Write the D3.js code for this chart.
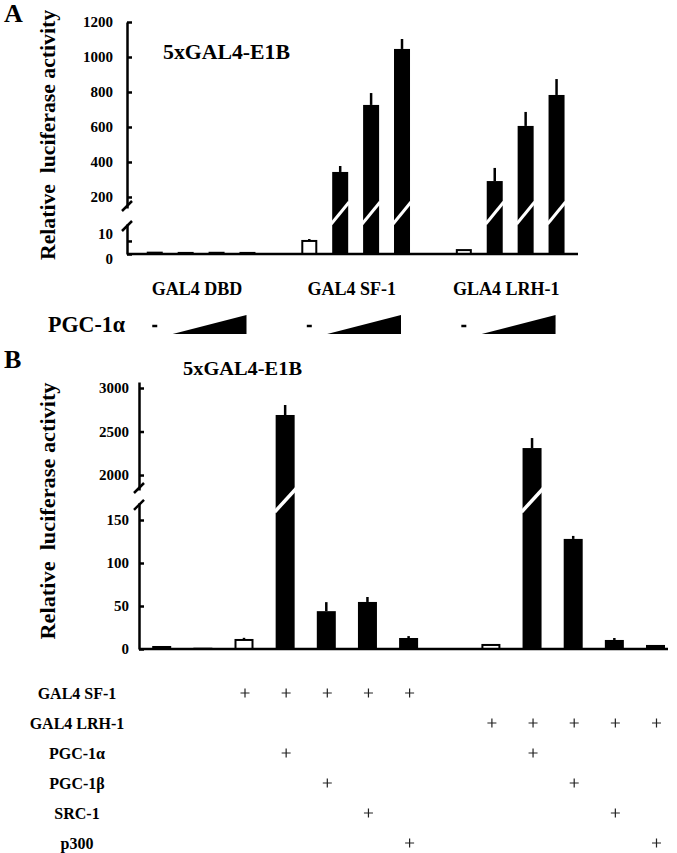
<!DOCTYPE html>
<html>
<head>
<meta charset="utf-8">
<script src="https://cdn.jsdelivr.net/npm/d3@7"></script>
<style>
body { margin: 0; background: #fff; }
svg { display: block; font-family: 'Liberation Serif', 'Times New Roman', serif; font-weight: bold; }
</style>
</head>
<body>
<svg width="677" height="853"></svg>
<script>
'use strict'

// Panel A: GAL4 fusions with increasing PGC-1a
const groupsA = ['GAL4 DBD', 'GAL4 SF-1', 'GLA4 LRH-1']
const dosesA = ['-', 'low', 'mid', 'high']
const valuesA = [
	[1.8, 1.6, 1.7, 1.6],
	[10, 343, 726, 1046],
	[3, 291, 606, 783],
]
const errorsA = [
	[0, 0, 0, 0],
	[1.5, 34, 68, 57],
	[0, 75, 80, 91],
]
const ticksLowA = [0, 10]
const ticksHighA = [200, 400, 600, 800, 1000, 1200]

// Panel B: coactivator panel
const columnsB = ['DBD', 'DBD2', 'SF1', 'SF1+a', 'SF1+b', 'SF1+src', 'SF1+p300', 'gap', 'LRH', 'LRH+a', 'LRH+b', 'LRH+src', 'LRH+p300']
const valuesB = [3.5, 1.5, 10.5, 2690, 44, 54.7, 12.8, null, 4.7, 2310, 128, 10.5, 4.7]
const errorsB = [0, 0, 2.5, 115, 10.5, 5.8, 2.2, null, 0, 115, 3.5, 2.3, 0]
const controlsB = ['SF1', 'LRH']
const rowsB = ['GAL4 SF-1', 'GAL4 LRH-1', 'PGC-1\u03b1', 'PGC-1\u03b2', 'SRC-1', 'p300']
const plusB = [
	[0, 0, 1, 1, 1, 1, 1, 0, 0, 0, 0, 0, 0],
	[0, 0, 0, 0, 0, 0, 0, 0, 1, 1, 1, 1, 1],
	[0, 0, 0, 1, 0, 0, 0, 0, 0, 1, 0, 0, 0],
	[0, 0, 0, 0, 1, 0, 0, 0, 0, 0, 1, 0, 0],
	[0, 0, 0, 0, 0, 1, 0, 0, 0, 0, 0, 1, 0],
	[0, 0, 0, 0, 0, 0, 1, 0, 0, 0, 0, 0, 1],
]
const ticksLowB = [0, 50, 100, 150]
const ticksHighB = [2000, 2500, 3000]

const svg = d3.select('svg')

// Draws one broken y axis (two segments with slanted marks)
function brokenAxis(g, low, high, lowTicks, highTicks, pad, nudge) {
	[[low, lowTicks], [high, highTicks]].forEach(([s, t]) => {
		g.append('g')
			.call(d3.axisLeft(s).tickValues(t).tickFormat(d3.format('d'))
				.tickSizeInner(-5).tickSizeOuter(0).tickPadding(pad))
			.call(a => a.attr('font-family', null).attr('font-size', 15))
			.call(a => a.selectAll('path, line').attr('stroke', '#000').attr('stroke-width', 2.5))
			.call(a => a.selectAll('text').attr('fill', '#000'))
	})
	// pull the two crowded low labels apart a little
	if (nudge) {
		g.selectAll('.tick text').filter(d => d === 0).attr('dy', '0.6em')
		g.selectAll('.tick text').filter(d => d === lowTicks[1]).attr('dy', '-0.15em')
	}
	const ends = [low.range()[1], high.range()[0]]
	ends.forEach((y, i) => {
		const yy = i === 0 ? y + 2 : y - 2
		g.append('line')
			.attr('x1', -5).attr('y1', yy + 5)
			.attr('x2', 5).attr('y2', yy - 5)
			.attr('stroke', '#000').attr('stroke-width', 2.5)
	})
}

// ---------- Panel A ----------
const axA = 127
const x0A = d3.scaleBand().domain(groupsA).range([139.3, 572]).paddingInner(0.2)
const x1A = d3.scaleBand().domain(dosesA).range([0, x0A.bandwidth()])
const lowA = d3.scaleLinear().domain([0, 23]).range([254, 224])
const highA = d3.scaleLinear().domain([137, 1200]).range([208, 22])
const breakA = 15
const yA = v => v < breakA ? lowA(v) : highA(v)
const bwA = 16

svg.append('text').attr('x', 4).attr('y', 22).attr('font-size', 26).text('A')
svg.append('text').attr('x', 163).attr('y', 59).attr('font-size', 20)
	.attr('textLength', 127).attr('lengthAdjust', 'spacingAndGlyphs').text('5xGAL4-E1B')
svg.append('text').attr('transform', 'translate(55,135) rotate(-90)')
	.attr('text-anchor', 'middle').attr('font-size', 20)
	.attr('textLength', 250).attr('lengthAdjust', 'spacingAndGlyphs')
	.text('Relative\u00a0 luciferase activity')

const gA = svg.append('g')
valuesA.forEach((vals, gi) => {
	const grp = groupsA[gi]
	vals.forEach((v, di) => {
		const x = x0A(grp) + x1A(dosesA[di]) + (x1A.bandwidth() - bwA) / 2
		const open = di === 0 && gi > 0
		const e = errorsA[gi][di]
		if (e > 0) {
			gA.append('line').attr('x1', x + bwA / 2).attr('x2', x + bwA / 2)
				.attr('y1', yA(v)).attr('y2', yA(v + e))
				.attr('stroke', '#000').attr('stroke-width', 2.5)
		}
		gA.append('rect')
			.attr('x', open ? x + 1 : x).attr('width', open ? bwA - 2 : bwA)
			.attr('y', yA(v)).attr('height', yA(0) - yA(v))
			.attr('fill', open ? '#fff' : '#000')
			.attr('stroke', '#000').attr('stroke-width', open ? 2 : 0)
		if (v > breakA) {
			gA.append('line').attr('x1', x - 1).attr('y1', 224).attr('x2', x + bwA + 1).attr('y2', 202)
				.attr('stroke', '#fff').attr('stroke-width', 3)
		}
	})
})
gA.append('line').attr('x1', axA).attr('x2', 578).attr('y1', yA(0)).attr('y2', yA(0))
	.attr('stroke', '#000').attr('stroke-width', 2.5)
brokenAxis(svg.append('g').attr('transform', `translate(${axA},0)`), lowA, highA, ticksLowA, ticksHighA, 14, true)

// Group labels and PGC-1a dose wedges
groupsA.forEach(grp => {
	svg.append('text').attr('x', x0A(grp) + x0A.bandwidth() / 2 - 4).attr('y', 295)
		.attr('text-anchor', 'middle').attr('font-size', 18).text(grp)
	const xd = x0A(grp) + x1A('-') + x1A.bandwidth() / 2
	svg.append('line').attr('x1', xd - 2.5).attr('x2', xd + 2.5).attr('y1', 326).attr('y2', 326)
		.attr('stroke', '#000').attr('stroke-width', 2.5)
	const xl = x0A(grp) + x1A('low') + x1A.bandwidth() / 2 - 13
	const xr = x0A(grp) + x1A('high') + x1A.bandwidth() / 2 - 1
	svg.append('path').attr('d', `M${xl},334L${xr},334L${xr},315Z`).attr('fill', '#000')
})
svg.append('text').attr('x', 48).attr('y', 332).attr('font-size', 23)
	.attr('textLength', 77).attr('lengthAdjust', 'spacingAndGlyphs').text('PGC-1\u03b1')

// ---------- Panel B ----------
const axB = 139
const xB = d3.scalePoint().domain(columnsB).range([161.7, 655.5])
const lowB = d3.scaleLinear().domain([0, 170]).range([649, 502.8])
const highB = d3.scaleLinear().domain([1828, 3069]).range([490, 382])
const breakB = 200
const yB = v => v < breakB ? lowB(v) : highB(v)
const bwB = 19

svg.append('text').attr('x', 4).attr('y', 368).attr('font-size', 26).text('B')
svg.append('text').attr('x', 183).attr('y', 375).attr('font-size', 19)
	.attr('textLength', 119).attr('lengthAdjust', 'spacingAndGlyphs').text('5xGAL4-E1B')
svg.append('text').attr('transform', 'translate(55,511) rotate(-90)')
	.attr('text-anchor', 'middle').attr('font-size', 20)
	.attr('textLength', 257).attr('lengthAdjust', 'spacingAndGlyphs')
	.text('Relative\u00a0 luciferase activity')

const gB = svg.append('g')
valuesB.forEach((v, i) => {
	if (v === null) return
	const c = columnsB[i]
	const x = xB(c) - bwB / 2
	const open = controlsB.includes(c)
	const e = errorsB[i]
	if (e > 0) {
		gB.append('line').attr('x1', xB(c)).attr('x2', xB(c))
			.attr('y1', yB(v)).attr('y2', yB(v + e))
			.attr('stroke', '#000').attr('stroke-width', 2.5)
	}
	gB.append('rect')
		.attr('x', open ? x + 1 : x).attr('width', open ? bwB - 2 : bwB)
		.attr('y', yB(v)).attr('height', yB(0) - yB(v))
		.attr('fill', open ? '#fff' : '#000')
		.attr('stroke', '#000').attr('stroke-width', open ? 2 : 0)
	if (v > breakB) {
		gB.append('line').attr('x1', x - 1).attr('y1', 512).attr('x2', x + bwB + 2).attr('y2', 488)
			.attr('stroke', '#fff').attr('stroke-width', 3.5)
	}
})
gB.append('line').attr('x1', axB).attr('x2', 668).attr('y1', yB(0)).attr('y2', yB(0))
	.attr('stroke', '#000').attr('stroke-width', 2.5)
brokenAxis(svg.append('g').attr('transform', `translate(${axB},0)`), lowB, highB, ticksLowB, ticksHighB, 10, false)

// Construct table under panel B
const yRow = d3.scalePoint().domain(rowsB).range([693, 843])
rowsB.forEach((r, ri) => {
	svg.append('text').attr('x', 77).attr('y', yRow(r)).attr('dy', '0.35em')
		.attr('text-anchor', 'middle').attr('font-size', 16).text(r)
	plusB[ri].forEach((p, ci) => {
		if (!p) return
		const cx = xB(columnsB[ci]) + 1
		const cy = yRow(r)
		svg.append('path').attr('d', `M${cx - 4.5},${cy}H${cx + 4.5}M${cx},${cy - 4.5}V${cy + 4.5}`)
			.attr('stroke', '#222').attr('stroke-width', 1.2).attr('fill', 'none')
	})
})
</script>
</body>
</html>
